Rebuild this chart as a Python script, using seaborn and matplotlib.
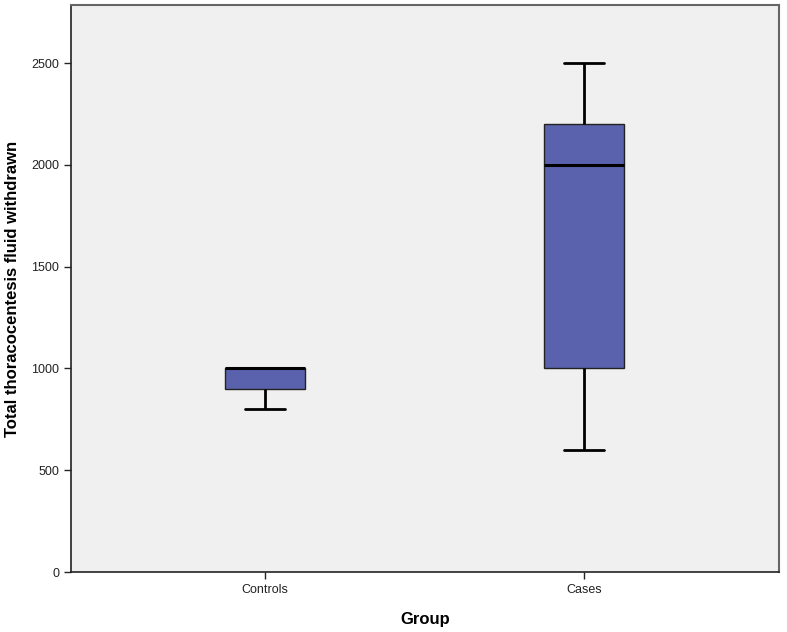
import pandas as pd
import numpy as np
import matplotlib
matplotlib.use("Agg")
import matplotlib.pyplot as plt
import seaborn as sns

# values (min, Q1, median, Q3, max)
controls = [800, 900, 900, 1000, 1000, 1000, 1000, 1000]
cases = [600, 1000, 2000, 2200, 2500]
groups = ["Controls", "Cases"]
yticks = [0, 500, 1000, 1500, 2000, 2500]

df = pd.DataFrame({
    "Group": [groups[0]] * len(controls) + [groups[1]] * len(cases),
    "value": controls + cases,
})

sns.set_style("white")
plt.rcParams["font.family"] = ["Liberation Sans", "DejaVu Sans"]

fig = plt.figure(figsize=(7.87, 6.32), dpi=100)
ax = fig.add_axes([0.0902, 0.0949, 0.8996, 0.8971])
ax.set_facecolor("#f0f0f0")

sns.boxplot(data=df, x="Group", y="value", order=groups, ax=ax,
            color="#5a62ad", saturation=1, width=0.25, whis=(0, 100),
            linecolor="black", linewidth=1,
            boxprops=dict(edgecolor="#222222", linewidth=1),
            whiskerprops=dict(linewidth=2),
            capprops=dict(linewidth=2),
            medianprops=dict(linewidth=2.2, color="black"))

ax.set_xlim(-0.608, 1.611)
ax.set_ylim(0, 2785)
ax.set_yticks(yticks)
ax.set_yticklabels([str(t) for t in yticks], fontsize=9, color="#222222")
ax.tick_params(axis="x", labelsize=9, colors="#222222", length=5, width=1, direction="out", bottom=True)
ax.tick_params(axis="y", length=5, width=1, direction="out", left=True)

ax.set_xlabel("Group", fontsize=12, fontweight="bold", labelpad=12, color="black")
ax.set_ylabel("Total thoracocentesis fluid withdrawn", fontsize=12, fontweight="bold",
              labelpad=8, color="black")

for side in ["left", "bottom"]:
    ax.spines[side].set_color("#222222")
    ax.spines[side].set_linewidth(1.2)
for side in ["top", "right"]:
    ax.spines[side].set_visible(True)
    ax.spines[side].set_color("#666666")
    ax.spines[side].set_linewidth(1.5)

fig.savefig("out.png", dpi=100, facecolor="white")
